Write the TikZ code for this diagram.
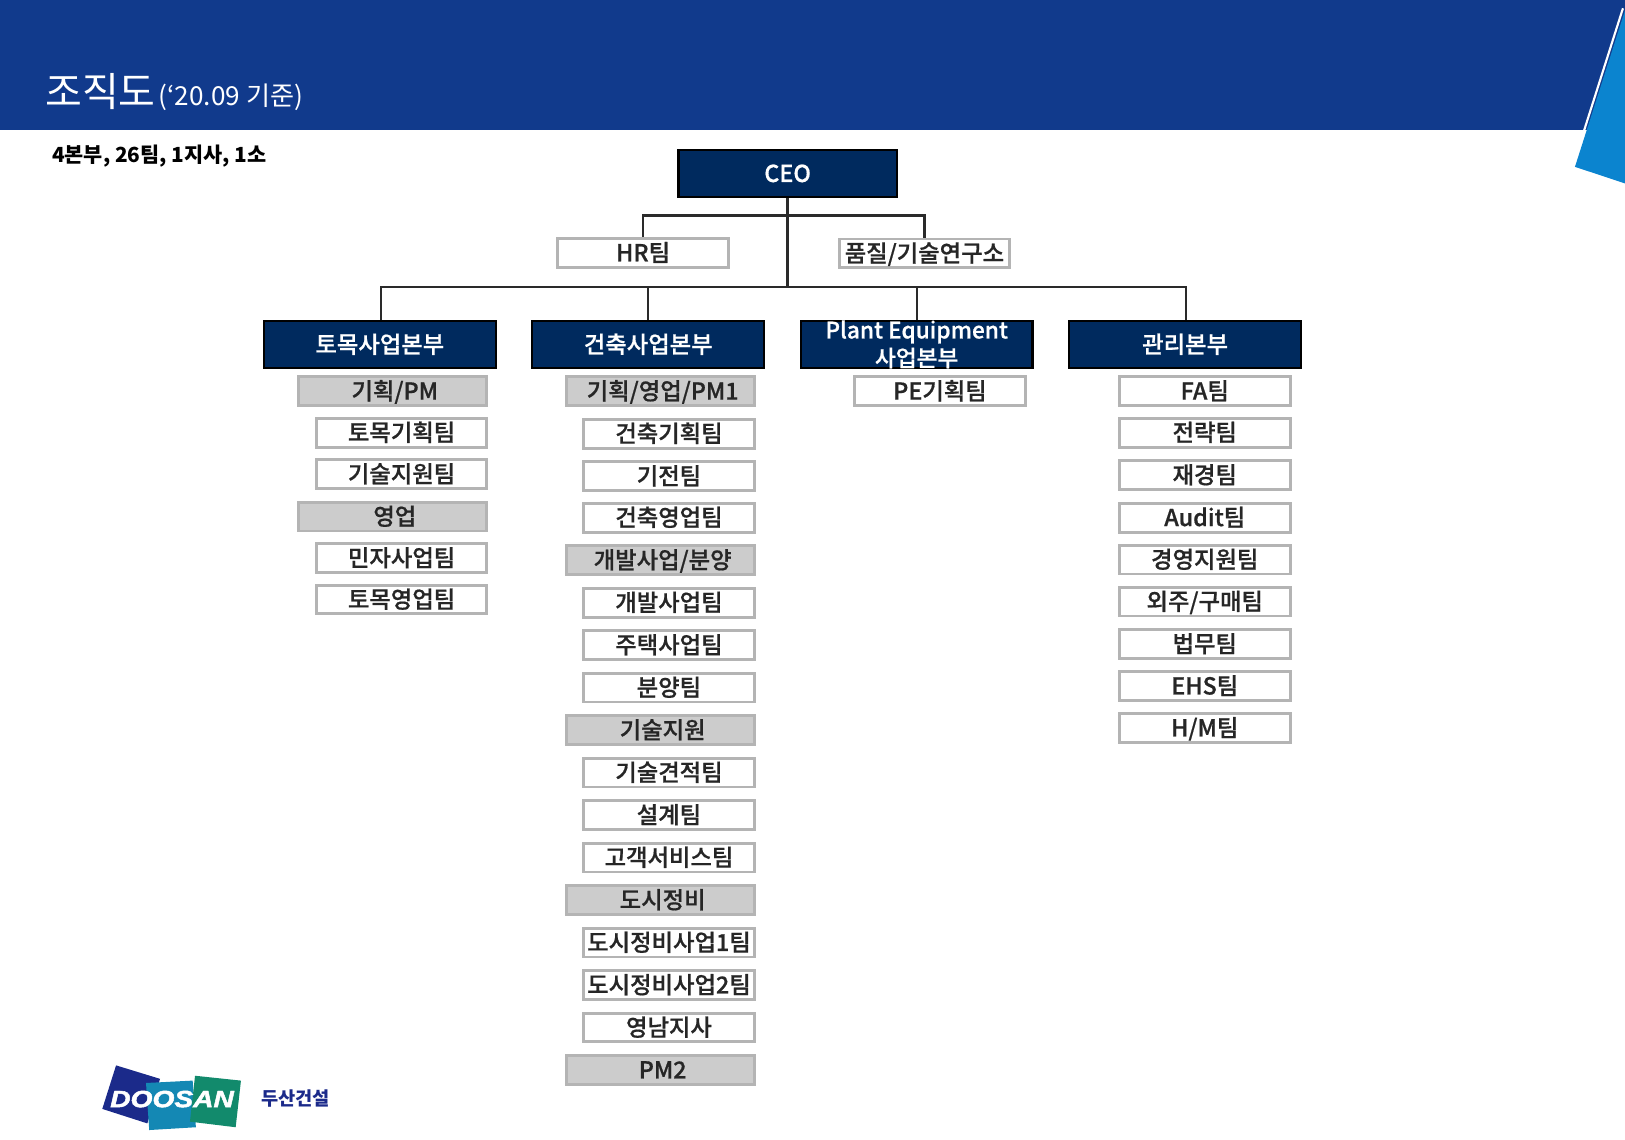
\documentclass[tikz,border=0pt]{standalone}
\usepackage{fontspec}
\setmainfont{Noto Sans CJK KR}
\newfontfamily\medfont[FakeBold=0.7]{Noto Sans CJK KR Medium}
\newfontfamily\logofont[BoldItalicFeatures={FakeBold=2,FakeStretch=1.2}]{Liberation Sans}
\definecolor{band}{HTML}{113A8C}
\definecolor{sky}{HTML}{0B84CF}
\definecolor{navybox}{HTML}{002A5E}
\definecolor{edgegray}{HTML}{B4B4B4}
\definecolor{fillgray}{HTML}{CCCCCC}
\definecolor{txt}{HTML}{262626}
\definecolor{linecol}{HTML}{2A2A2A}
\definecolor{lognavy}{HTML}{1B2A8A}
\definecolor{logteal}{HTML}{1488B4}
\definecolor{loggreen}{HTML}{128A6C}
\tikzset{
 head/.style={draw=black,line width=1.6pt,fill=navybox,text=white,inner sep=0pt,minimum width=173.8pt,minimum height=35.4pt,font=\fontsize{17.5}{21}\medfont},
 headline/.style={text height=14pt,text depth=1.4pt},
 team/.style={draw=edgegray,line width=2.2pt,fill=white,text=txt,inner sep=0pt,minimum width=128pt,minimum height=21.6pt,text height=14pt,text depth=1.4pt,font=\fontsize{17.5}{19}\medfont},
 group/.style={team,fill=fillgray,minimum width=141pt,execute at begin node=\hspace{3pt}},
 conn/.style={draw=linecol,line width=2pt},
 bus conn/.style={draw=linecol,line width=1.3pt},
}
\begin{document}
\begin{tikzpicture}[x=0.7773pt,y=-0.7773pt]
\useasboundingbox (0,0) rectangle (1568,1100);
\fill[band] (0,0) rectangle (1568,125);
\fill[sky] (1519.7,161) -- (1568,10) -- (1568,177) -- cycle;
\draw[white,line width=1.6pt] (1518,159) -- (1566,8);
\node[anchor=west,text=white,inner sep=0pt,font=\fontsize{30}{32}\selectfont] (title) at (43.5,88) {조직도};
\node[anchor=west,text=white,inner sep=0pt,font=\fontsize{19.6}{22}\selectfont] (sub) at (153,94) {(‘20.09 기준)};
\node[anchor=west,text=black,inner sep=0pt,font=\fontsize{15.6}{18}\selectfont\bfseries] (count) at (50,151) {4본부, 26팀, 1지사, 1소};

\node[head,headline,minimum width=163.8pt] (ceo) at (760,167.5) {CEO};
\node[team] (hr) at (620.5,244) {HR팀};
\node[team] (rnd) at (892,244.5) {품질/기술연구소};

\node[head,headline] (h1) at (366.5,332.5) {토목사업본부};
\node[head,headline] (h2) at (625.5,332.5) {건축사업본부};
\node[head,font=\fontsize{17}{21}\medfont] (h3) at (884.5,332.5) {\raisebox{-1.5pt}[12pt][3pt]{\begin{tabular}[c]{@{}c@{}}Plant Equipment\\사업본부\end{tabular}}};
\node[head,headline] (h4) at (1143.5,332.5) {관리본부};

\coordinate (branch) at (760,208);
\coordinate (bus) at (760,277);
\draw[conn] (ceo.south) -- (bus);
\draw[conn] (hr.north) |- (branch) -| (rnd.north);
\draw[bus conn] ([xshift=1pt]h1.north) |- (bus) -| ([xshift=0.5pt]h4.north);
\draw[bus conn] (h2.north) -- (h2.north |- bus);
\draw[bus conn] (h3.north) -- (h3.north |- bus);

\node[group] (a1) at (379,377.5) {기획/PM};
\node[team] (a2) at (387.5,417.5) {토목기획팀};
\node[team] (a3) at (387.5,457.5) {기술지원팀};
\node[group] (a4) at (379,498.5) {영업};
\node[team] (a5) at (387.5,538.5) {민자사업팀};
\node[team] (a6) at (387.5,578.5) {토목영업팀};

\node[group] (b1) at (637.5,377.5) {기획/영업/PM1};
\node[team] (b2) at (645.5,418.5) {건축기획팀};
\node[team] (b3) at (645.5,459.5) {기전팀};
\node[team] (b4) at (645.5,499.5) {건축영업팀};
\node[group] (b5) at (637.5,540.5) {개발사업/분양};
\node[team] (b6) at (645.5,581.5) {개발사업팀};
\node[team] (b7) at (645.5,622.5) {주택사업팀};
\node[team] (b8) at (645.5,663.5) {분양팀};
\node[group] (b9) at (637.5,704.5) {기술지원};
\node[team] (b10) at (645.5,745.5) {기술견적팀};
\node[team] (b11) at (645.5,786.5) {설계팀};
\node[team] (b12) at (645.5,827.5) {고객서비스팀};
\node[group] (b13) at (637.5,868.5) {도시정비};
\node[team] (b14) at (645.5,909.5) {도시정비사업1팀};
\node[team] (b15) at (645.5,950.5) {도시정비사업2팀};
\node[team] (b16) at (645.5,991.5) {영남지사};
\node[group] (b17) at (637.5,1032.5) {PM2};

\node[team] (c1) at (907,377.5) {PE기획팀};

\node[team] (d1) at (1162.5,377.5) {FA팀};
\node[team] (d2) at (1162.5,417.5) {전략팀};
\node[team] (d3) at (1162.5,458.5) {재경팀};
\node[team] (d4) at (1162.5,499.5) {Audit팀};
\node[team] (d5) at (1162.5,540) {경영지원팀};
\node[team] (d6) at (1162.5,580.5) {외주/구매팀};
\node[team] (d7) at (1162.5,621.5) {법무팀};
\node[team] (d8) at (1162.5,662) {EHS팀};
\node[team] (d9) at (1162.5,702.5) {H/M팀};

\fill[lognavy] (112,1028) -- (154.4,1041) -- (142.2,1084) -- (98.7,1070) -- cycle;
\fill[logteal] (140.9,1045) -- (185.9,1042.7) -- (189,1087.7) -- (144,1090.4) -- cycle;
\fill[loggreen] (188.2,1038) -- (232.5,1042.7) -- (227.4,1087.7) -- (183.3,1082.3) -- cycle;
\node[text=white,inner sep=0pt,font=\logofont\fontsize{17.6}{20}\selectfont\bfseries\itshape] (logo) at (166,1060.5) {DOOSAN};
\node[anchor=west,text=lognavy,inner sep=0pt,font=\fontsize{14}{16}\selectfont\bfseries] (co) at (252,1060) {두산건설};
\end{tikzpicture}
\end{document}
